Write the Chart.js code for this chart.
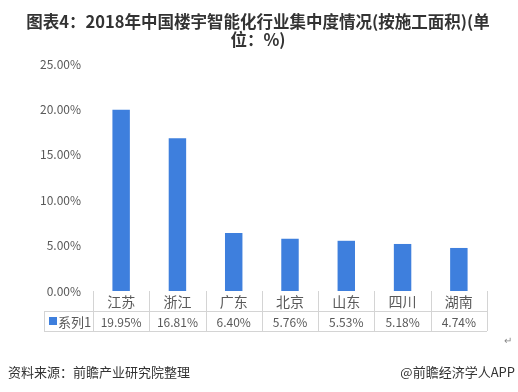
<!DOCTYPE html>
<html><head><meta charset="utf-8">
<script src="https://cdn.jsdelivr.net/npm/chart.js@4/dist/chart.umd.min.js"></script>
<style>
html,body{margin:0;padding:0;background:#fff;}
#wrap{position:relative;width:518px;height:392px;}
canvas{position:absolute;left:0;top:0;}
</style></head>
<body><div id="wrap"><canvas id="c" width="518" height="392"></canvas></div>
<script>
const categories = ["江苏","浙江","广东","北京","山东","四川","湖南"];
const values = [19.95, 16.81, 6.40, 5.76, 5.53, 5.18, 4.74];
const seriesName = "系列1";
const yTicks = [0, 5, 10, 15, 20, 25];
const titleLines = ["图表4：2018年中国楼宇智能化行业集中度情况(按施工面积)(单", "位：%)"];
const sourceText = "资料来源：前瞻产业研究院整理";
const brandText = "@前瞻经济学人APP";

const BAR = "#3E7FDD";
const GRID = "#d4d4d4";
const TXT = "#595959";
const FONT = "'Noto Sans CJK SC', 'Liberation Sans', sans-serif";

const decor = {
  id: 'decor',
  afterDraw(chart) {
    const ctx = chart.ctx;
    const x = chart.scales.x;
    const area = chart.chartArea;
    const n = categories.length;
    const step = (area.right - area.left) / n;
    const rowTop = area.bottom, rowMid = area.bottom + 20, rowBot = area.bottom + 40;
    const tableLeft = 44;
    ctx.save();
    ctx.strokeStyle = GRID; ctx.lineWidth = 1;
    ctx.beginPath();
    for (let i = 0; i <= n; i++) {
      const xx = Math.round(area.left + i * step) + 0.5;
      ctx.moveTo(xx, rowTop); ctx.lineTo(xx, rowBot);
    }
    ctx.moveTo(tableLeft + 0.5, rowMid); ctx.lineTo(tableLeft + 0.5, rowBot);
    ctx.moveTo(tableLeft, Math.round(rowMid) + 0.5); ctx.lineTo(area.right, Math.round(rowMid) + 0.5);
    ctx.moveTo(tableLeft, Math.round(rowBot) + 0.5); ctx.lineTo(area.right, Math.round(rowBot) + 0.5);
    ctx.stroke();
    ctx.fillStyle = TXT;
    ctx.textAlign = 'center'; ctx.textBaseline = 'middle';
    for (let i = 0; i < n; i++) {
      const cx = x.getPixelForValue(i);
      ctx.font = "14px " + FONT;
      ctx.fillText(categories[i], cx, (rowTop + rowMid) / 2 + 1);
      ctx.font = "12px " + FONT;
      ctx.fillText(values[i].toFixed(2) + "%", cx, (rowMid + rowBot) / 2 + 1);
    }
    ctx.fillStyle = BAR;
    ctx.fillRect(49, (rowMid + rowBot) / 2 - 4, 8, 8);
    ctx.fillStyle = TXT;
    ctx.textAlign = 'left';
    ctx.font = "13px " + FONT;
    ctx.fillText(seriesName, 58, (rowMid + rowBot) / 2 + 1);
    ctx.fillStyle = "#333333";
    ctx.textAlign = 'center';
    ctx.font = "bold 16.5px " + FONT;
    ctx.fillText(titleLines[0], 258, 22);
    ctx.fillText(titleLines[1], 258, 40);
    ctx.font = "13px " + FONT;
    ctx.fillStyle = "#333333";
    ctx.textAlign = 'left';
    ctx.fillText(sourceText, 8, 372);
    ctx.textAlign = 'right';
    ctx.fillText(brandText, 515, 372);
    ctx.fillStyle = "#888";
    ctx.font = "10px " + FONT;
    ctx.fillText("↵", 512, 340);
    ctx.restore();
  }
};

new Chart(document.getElementById('c'), {
  type: 'bar',
  data: {
    labels: categories,
    datasets: [{ label: seriesName, data: values, backgroundColor: BAR, borderWidth: 0,
      barPercentage: 0.31, categoryPercentage: 1.0 }]
  },
  options: {
    responsive: false, animation: false,
    layout: { padding: { left: 0, right: 31, top: 64, bottom: 101 } },
    plugins: { legend: { display: false }, tooltip: { enabled: false }, title: { display: false } },
    scales: {
      x: { grid: { display: false, drawTicks: false }, border: { display: false },
           ticks: { display: false } },
      y: { min: 0, max: 25, afterBuildTicks(s) { s.ticks = yTicks.map(v => ({ value: v })); },
           grid: { display: false, drawTicks: false }, border: { display: false },
           afterFit(s) { s.width = 93; },
           ticks: { color: TXT, font: { size: 12, family: FONT }, padding: 12,
                    callback: v => v.toFixed(2) + "%" } }
    }
  },
  plugins: [decor]
});
</script></body></html>
